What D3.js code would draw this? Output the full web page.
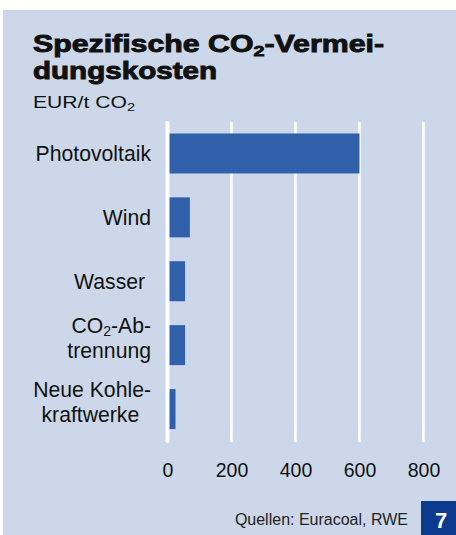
<!DOCTYPE html>
<html>
<head>
<meta charset="utf-8">
<script src="https://cdn.jsdelivr.net/npm/d3@7"></script>
<style>
  html, body { margin: 0; padding: 0; background: #ffffff; }
  svg { display: block; }
  text { font-family: "Liberation Sans", Arial, Helvetica, sans-serif; }
</style>
</head>
<body>
<svg id="chart" width="456" height="535"></svg>
<script>
// ---- data ----
const categories = ["Photovoltaik", "Wind", "Wasser\u00a0", "CO\u2082-Ab-|trennung", "Neue Kohle-|kraftwerke\u00a0\u00a0"];
const values = [600, 70, 55, 55, 25];
const tickValues = [0, 200, 400, 600, 800];
const tickLabels = ["0", "200", "400", "600", "800"];
const titleLines = ["Spezifische CO\u2082-Vermei-", "dungskosten"];
const subtitle = "EUR/t CO\u2082";
const source = "Quellen: Euracoal, RWE";
const badge = "7";

// ---- drawing ----
const svg = d3.select("#chart");
const W = 456, H = 535;

svg.append("rect").attr("x", 0).attr("y", 0).attr("width", W).attr("height", H).attr("fill", "#ffffff");
svg.append("rect").attr("x", 3).attr("y", 10).attr("width", W - 3).attr("height", H - 10).attr("fill", "#ccd8ea");

// helper: write a string, turning "₂" into a subscript tspan
function writeRich(textSel, str, subSize, subDy) {
  const parts = str.split("\u2082");
  parts.forEach((p, i) => {
    if (i > 0) {
      textSel.append("tspan").attr("font-size", subSize).attr("dy", subDy).text("2");
      textSel.append("tspan").attr("dy", -subDy).text(p);
    } else {
      textSel.append("tspan").text(p);
    }
  });
}

// Title
const titleY = [51.7, 79];
const titleW = [351, 184];
titleLines.forEach((line, i) => {
  const t = svg.append("text")
    .attr("x", 33).attr("y", titleY[i])
    .attr("font-size", 23).attr("font-weight", "bold")
    .attr("fill", "#111").attr("stroke", "#111").attr("stroke-width", 0.9)
    .attr("textLength", titleW[i]).attr("lengthAdjust", "spacingAndGlyphs");
  writeRich(t, line, 15, 4);
});

// Subtitle
const st = svg.append("text")
  .attr("x", 33).attr("y", 107.5)
  .attr("font-size", 16).attr("fill", "#111")
  .attr("textLength", 102).attr("lengthAdjust", "spacingAndGlyphs");
writeRich(st, subtitle, 11, 3);

// Scales
const x = d3.scaleLinear().domain([0, 800]).range([167.5, 423.5]);
const y = d3.scaleBand().domain(categories).range([114.3, 448.2]).paddingInner(0.374).paddingOuter(0.3);

// gridlines (non-zero)
svg.append("g").selectAll("line")
  .data(tickValues.filter(d => d !== 0))
  .join("line")
  .attr("x1", d => x(d)).attr("x2", d => x(d))
  .attr("y1", 122).attr("y2", 442)
  .attr("stroke", "#ffffff").attr("stroke-width", 2.6);

// bars
svg.append("g").selectAll("rect")
  .data(categories)
  .join("rect")
  .attr("x", x(0))
  .attr("y", d => y(d))
  .attr("width", (d, i) => x(values[i]) - x(0))
  .attr("height", y.bandwidth())
  .attr("fill", "#3160ab");

// zero line on top
svg.append("line")
  .attr("x1", x(0)).attr("x2", x(0))
  .attr("y1", 123).attr("y2", 441)
  .attr("stroke", "#ffffff").attr("stroke-width", 4).attr("stroke-linecap", "round");

// x axis tick labels
const axis = d3.axisBottom(x).tickValues(tickValues).tickFormat((d, i) => tickLabels[i]).tickSize(0);
const ax = svg.append("g").call(axis);
ax.select(".domain").remove();
ax.selectAll("text")
  .attr("y", 477.3).attr("dy", 0)
  .attr("font-size", 19.5)
  .attr("font-family", "'Liberation Sans', Arial, sans-serif")
  .attr("fill", "#111");

// category labels
const lab = svg.append("g");
categories.forEach((c, i) => {
  const lines = c.split("|");
  const cy = y(c) + y.bandwidth() / 2;
  lines.forEach((ln, j) => {
    const base = lines.length === 1 ? cy + 7.5 : cy - 12.5 + j * 25.5;
    const t = lab.append("text")
      .attr("x", 151).attr("y", base)
      .attr("text-anchor", "end")
      .attr("font-size", 21.2).attr("fill", "#111");
    writeRich(t, ln, 14, 3);
  });
});

// source
svg.append("text")
  .attr("x", 408).attr("y", 525)
  .attr("text-anchor", "end")
  .attr("font-size", 16).attr("fill", "#222")
  .text(source);

// badge
svg.append("rect").attr("x", 421).attr("y", 501).attr("width", 35).attr("height", 34).attr("fill", "#0b3a8e");
svg.append("text")
  .attr("x", 441).attr("y", 527.7)
  .attr("text-anchor", "middle")
  .attr("font-size", 22).attr("font-weight", "bold").attr("fill", "#ffffff")
  .text(badge);
</script>
</body>
</html>
